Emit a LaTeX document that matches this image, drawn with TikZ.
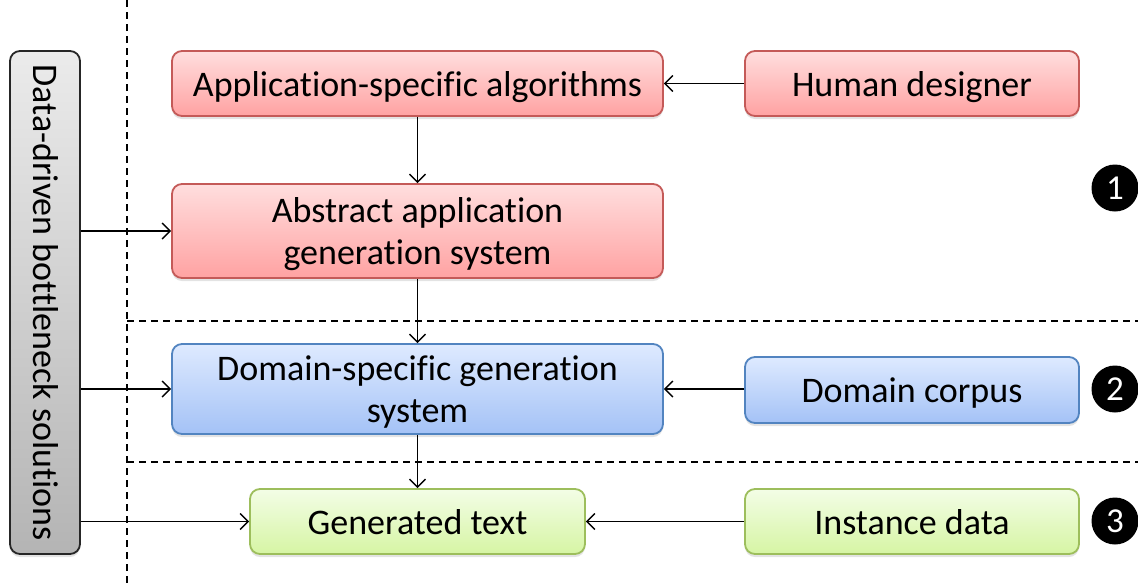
\documentclass[tikz,border=0pt]{standalone}
\usepackage{fontspec}
\setmainfont{Carlito}[Ligatures=CommonOff]
\usetikzlibrary{arrows.meta,shadows}

\definecolor{redtop}{HTML}{FFDEDE}
\definecolor{redbot}{HTML}{FFA2A2}
\definecolor{redline}{HTML}{C45A58}
\definecolor{bluetop}{HTML}{DEEAFF}
\definecolor{bluebot}{HTML}{A4C2F6}
\definecolor{blueline}{HTML}{5284C0}
\definecolor{greentop}{HTML}{F3FDE6}
\definecolor{greenbot}{HTML}{D6F5A4}
\definecolor{greenline}{HTML}{9DBE5C}
\definecolor{graytop}{HTML}{EBEBEB}
\definecolor{graybot}{HTML}{B4B4B4}

\tikzset{
  box/.style={rectangle, rounded corners=10pt, line width=1.8pt,
    inner sep=0pt, align=flush center,
    font=\fontsize{36}{42}\selectfont,
    % fixed first-line height and last-line depth keep the baselines even
    execute at begin node={\rule{0pt}{34pt}},
    execute at end node={\rule[-9pt]{0pt}{0pt}},
    drop shadow={opacity=0.22, shadow xshift=0pt, shadow yshift=-3pt}},
  wide/.style={minimum width=491pt, text width=470pt},
  narrow/.style={minimum width=334pt, text width=320pt},
  redbox/.style={box, draw=redline, top color=redtop, bottom color=redbot},
  bluebox/.style={box, draw=blueline, top color=bluetop, bottom color=bluebot},
  greenbox/.style={box, draw=greenline, top color=greentop, bottom color=greenbot},
  graybox/.style={rectangle, rounded corners=10pt, line width=1.8pt,
    draw=black!85, top color=graytop, bottom color=graybot,
    drop shadow={opacity=0.22, shadow xshift=0pt, shadow yshift=-3pt}},
  flow/.style={line width=1.4pt, -{Straight Barb[length=8pt,width=16pt]}},
  divider/.style={line width=1.4pt, dash pattern=on 7pt off 5pt},
  badge/.style={circle, fill=black, text=white, minimum size=47pt,
    inner sep=0pt, font=\fontsize{35}{35}\selectfont}
}

\begin{document}
\begin{tikzpicture}[x=1pt, y=-1pt]
  \useasboundingbox (0,0) rectangle (1138,587);

  % stage dividers
  \coordinate (vtop) at (127,0);
  \coordinate (vbot) at (127,587);
  \coordinate (h1l) at (127,321);
  \coordinate (h1r) at (1138,321);
  \coordinate (h2l) at (127,462);
  \coordinate (h2r) at (1138,462);
  \draw[divider] (vtop) -- (vbot);
  \draw[divider] (h1l) -- (h1r);
  \draw[divider] (h2l) -- (h2r);

  % side bar
  \node[graybox, minimum width=70pt, minimum height=503pt] (side) at (45,302.5) {};
  \node[rotate=-90, font=\fontsize{36}{42}\selectfont, inner sep=0pt] (sidetext) at ([xshift=1pt]side.center) {Data-driven bottleneck solutions};

  % stage 1
  \node[redbox, wide, minimum height=65pt] (algo) at (417.5,83.5) {Application-specific algorithms};
  \node[redbox, narrow, minimum height=65pt] (human) at (912,83.5) {Human designer};
  \node[redbox, wide, minimum height=94pt] (abstract) at (417.5,231) {Abstract application\\generation system};

  % stage 2
  \node[bluebox, wide, minimum height=90pt] (domain) at (417.5,389) {Domain-specific generation\\system};
  \node[bluebox, narrow, minimum height=66pt] (corpus) at (912,390) {Domain corpus};

  % stage 3
  \node[greenbox, narrow, minimum width=335pt, minimum height=65pt] (gentext) at (417.5,521.5) {Generated text};
  \node[greenbox, narrow, minimum height=65pt] (instance) at (912,521.5) {Instance data};

  % stage numbers
  \node[badge] (n1) at (1115,188) {1};
  \node[badge] (n2) at (1115,389) {2};
  \node[badge] (n3) at (1115,521) {3};

  % connectors
  \draw[flow] (human.west) -- (algo.east);
  \draw[flow] (algo.south) -- (abstract.north);
  \draw[flow] (abstract.south) -- (domain.north);
  \draw[flow] (corpus.west |- domain.east) -- (domain.east);
  \draw[flow] (domain.south) -- (gentext.north);
  \draw[flow] (instance.west) -- (gentext.east);
  \draw[flow] (side.east |- abstract.west) -- (abstract.west);
  \draw[flow] (side.east |- domain.west) -- (domain.west);
  \draw[flow] (side.east |- gentext.west) -- (gentext.west);
\end{tikzpicture}
\end{document}
